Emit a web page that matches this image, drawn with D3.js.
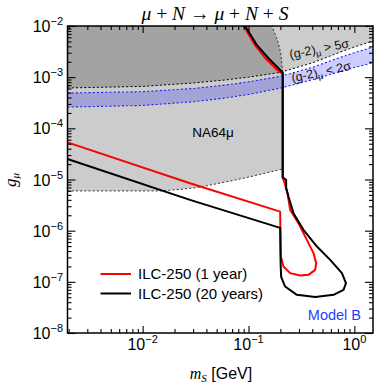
<!DOCTYPE html>
<html>
<head>
<meta charset="utf-8">
<script src="https://cdn.jsdelivr.net/npm/d3@7"></script>
<style>
body{margin:0;background:#fff}
svg{display:block}
</style>
</head>
<body>
<svg id="chart" width="382" height="389"></svg>
<script>
// g-2 bands, sampled on a common mass grid (GeV)
const massGrid = [0.00195, 0.01, 0.03, 0.06, 0.1, 0.2, 0.4, 0.7, 1.0, 1.5];
const g2FiveSigma = [6.15e-4, 6.6e-4, 7.7e-4, 8.8e-4, 1.0e-3, 1.24e-3, 1.9e-3, 2.97e-3, 3.9e-3, 5.1e-3];
const g2TwoSigmaHigh = [4.9e-4, 5.2e-4, 6.0e-4, 7.0e-4, 8.1e-4, 1.04e-3, 1.55e-3, 2.35e-3, 3.0e-3, 3.9e-3];
const g2TwoSigmaLow = [2.6e-4, 2.8e-4, 3.3e-4, 3.9e-4, 4.6e-4, 6.1e-4, 8.9e-4, 1.25e-3, 1.55e-3, 1.9e-3];

// NA64mu excluded region boundary
const na64Mass = [0.00195, 0.0146, 0.0225, 0.0348, 0.0889, 0.212, 0.212, 0.2093, 0.202, 0.1875, 0.166];
const na64Coupling = [5.98e-6, 5.98e-6, 6.4e-6, 7.08e-6, 1.05e-5, 1.61e-5, 1.2e-3, 1.38e-3, 2.93e-3, 5.33e-3, 1e-2];

// ILC-250 sensitivity contours
const ilc1Mass = [0.00195, 0.028, 0.199, 0.2021, 0.2139, 0.2474, 0.3078, 0.3687, 0.4266, 0.436, 0.411, 0.356, 0.2965, 0.2474, 0.2334, 0.2172, 0.2089, 0.2089, 0.1845, 0.1467, 0.1155, 0.0899];
const ilc1Coupling = [5.31e-5, 8.47e-6, 2.36e-6, 3.12e-7, 1.99e-7, 1.48e-7, 1.33e-7, 1.37e-7, 1.71e-7, 2.32e-7, 3.64e-7, 6.6e-7, 1.4e-6, 2.55e-6, 5.4e-6, 9.1e-6, 1.11e-5, 1.155e-3, 1.41e-3, 2.26e-3, 4.16e-3, 1e-2];
const ilc20Mass = [0.00195, 0.028, 0.199, 0.2012, 0.2034, 0.2219, 0.2864, 0.4266, 0.636, 0.79, 0.833, 0.763, 0.591, 0.443, 0.3306, 0.266, 0.2384, 0.2268, 0.2268, 0.2111, 0.2111, 0.1918, 0.1543, 0.1198, 0.0929];
const ilc20Coupling = [2.52e-5, 4.0e-6, 1.135e-6, 2.15e-7, 1.25e-7, 8.1e-8, 5.57e-8, 5.03e-8, 5.57e-8, 6.98e-8, 9.44e-8, 1.48e-7, 2.69e-7, 4.89e-7, 1.04e-6, 2.2e-6, 4.64e-6, 6.86e-6, 9.8e-6, 1.1e-5, 1.21e-3, 1.49e-3, 2.34e-3, 4.26e-3, 1e-2];

const xMajor = [0.01, 0.1, 1];
const xTickExp = ["\u22122", "\u22121", "0"];
const yMajor = [1e-8, 1e-7, 1e-6, 1e-5, 1e-4, 1e-3, 1e-2];
const yTickExp = ["\u22128", "\u22127", "\u22126", "\u22125", "\u22124", "\u22123", "\u22122"];
const legendLabels = ["ILC-250 (1 year)", "ILC-250 (20 years)"];
const legendColors = ["#ff0000", "#000000"];

const pLeft = 67.5, pRight = 373, pTop = 26, pBottom = 333;
const sans = "'Liberation Sans', Arial, Helvetica, sans-serif";
const serif = "'Liberation Serif', 'Times New Roman', serif";

const svg = d3.select("#chart");
const x = d3.scaleLog().domain([0.00195, 1.5]).range([pLeft, pRight]);
const y = d3.scaleLog().domain([1e-8, 1e-2]).range([pBottom, pTop]);

svg.append("clipPath").attr("id", "clip")
  .append("rect").attr("x", pLeft).attr("y", pTop)
  .attr("width", pRight - pLeft).attr("height", pBottom - pTop);
const plot = svg.append("g").attr("clip-path", "url(#clip)");

const line = d3.line().x(d => x(d[0])).y(d => y(d[1]));
const zip = (a, b) => a.map((v, i) => [v, b[i]]);
const yMax = 1e-2, xMin = 0.00195, xMax = 1.5;

// NA64 region
const na64 = zip(na64Mass, na64Coupling);
plot.append("path")
  .attr("d", line(na64.concat([[xMin, yMax * 2], [xMin, yMax * 2]])))
  .attr("fill", "black").attr("fill-opacity", 0.2);

// (g-2) > 5 sigma region
const five = zip(massGrid, g2FiveSigma);
plot.append("path")
  .attr("d", line(five.concat([[xMax, yMax * 2], [xMin, yMax * 2]])))
  .attr("fill", "black").attr("fill-opacity", 0.2);

// 2 sigma band
const bandHigh = zip(massGrid, g2TwoSigmaHigh);
const bandLow = zip(massGrid, g2TwoSigmaLow);
plot.append("path")
  .attr("d", line(bandHigh.concat(bandLow.slice().reverse())))
  .attr("fill", "#0000ff").attr("fill-opacity", 0.2);

plot.append("path").attr("d", line(na64)).attr("fill", "none")
  .attr("stroke", "#333").attr("stroke-width", 1).attr("stroke-dasharray", "2,2.2");
plot.append("path").attr("d", line(five)).attr("fill", "none")
  .attr("stroke", "#000").attr("stroke-width", 1).attr("stroke-dasharray", "2,2.2");
[bandHigh, bandLow].forEach(b => {
  plot.append("path").attr("d", line(b)).attr("fill", "none")
    .attr("stroke", "#1a1aff").attr("stroke-width", 1.1).attr("stroke-dasharray", "2,2.2");
});

// ILC contours
plot.append("path").attr("d", line(zip(ilc1Mass, ilc1Coupling)))
  .attr("fill", "none").attr("stroke", "#ff0000").attr("stroke-width", 2)
  .attr("stroke-linejoin", "round");
plot.append("path").attr("d", line(zip(ilc20Mass, ilc20Coupling)))
  .attr("fill", "none").attr("stroke", "#000").attr("stroke-width", 2)
  .attr("stroke-linejoin", "round");

// axes and ticks (inward, all four sides)
function minorTicks(lo, hi) {
  const out = [];
  for (let e = Math.floor(Math.log10(lo)); e <= Math.ceil(Math.log10(hi)); e++) {
    for (let k = 2; k <= 9; k++) {
      const v = k * Math.pow(10, e);
      if (v > lo && v < hi) out.push(v);
    }
  }
  return out;
}
const xMinor = minorTicks(xMin, xMax);
const yMinor = minorTicks(1e-8, 1e-2);

function tickAxis(axis, pos, vals, len) {
  const g = svg.append("g").attr("transform", pos)
    .call(axis.tickValues(vals).tickSize(-len).tickFormat(""));
  g.select(".domain").remove();
  g.selectAll("line").attr("stroke", "#000").attr("stroke-width", 1.1);
}
[[xMajor, 7], [xMinor, 4]].forEach(([v, l]) => {
  tickAxis(d3.axisBottom(x), `translate(0,${pBottom})`, v, l);
  tickAxis(d3.axisTop(x), `translate(0,${pTop})`, v, l);
});
[[yMajor, 8], [yMinor, 4]].forEach(([v, l]) => {
  tickAxis(d3.axisLeft(y), `translate(${pLeft},0)`, v, l);
  tickAxis(d3.axisRight(y), `translate(${pRight},0)`, v, l);
});

svg.append("rect").attr("x", pLeft).attr("y", pTop)
  .attr("width", pRight - pLeft).attr("height", pBottom - pTop)
  .attr("fill", "none").attr("stroke", "#000").attr("stroke-width", 1.5);

// tick labels
xMajor.forEach((v, i) => {
  const t = svg.append("text").attr("x", x(v)).attr("y", 350)
    .attr("text-anchor", "middle").attr("font-family", sans).attr("font-size", 16);
  t.append("tspan").text("10");
  t.append("tspan").attr("dy", -7).attr("font-size", 11).text(xTickExp[i]);
});
yMajor.forEach((v, i) => {
  const t = svg.append("text").attr("x", 63).attr("y", y(v) + 6)
    .attr("text-anchor", "end").attr("font-family", sans).attr("font-size", 16);
  t.append("tspan").text("10");
  t.append("tspan").attr("dy", -7).attr("font-size", 11).text(yTickExp[i]);
});

// axis titles
const xl = svg.append("text").attr("x", 221).attr("y", 379)
  .attr("text-anchor", "middle").attr("font-size", 16);
xl.append("tspan").attr("font-family", serif).attr("font-style", "italic").text("m");
xl.append("tspan").attr("font-family", serif).attr("font-style", "italic")
  .attr("font-size", 11).attr("dy", 3).text("S");
xl.append("tspan").attr("font-family", sans).attr("dy", -3).text(" [GeV]");

const yl = svg.append("text").attr("transform", "translate(16,180) rotate(-90)")
  .attr("text-anchor", "middle").attr("font-family", serif).attr("font-style", "italic")
  .attr("font-size", 17);
yl.append("tspan").text("g");
yl.append("tspan").attr("font-size", 11).attr("dy", 3).text("\u03bc");

// title
const title = svg.append("text").attr("x", 215).attr("y", 19.5)
  .attr("text-anchor", "middle").attr("font-family", serif).attr("font-size", 19.5);
[["\u03bc", 1], [" + ", 0], ["N", 1], [" \u2192 ", 0], ["\u03bc", 1], [" + ", 0], ["N", 1], [" + ", 0], ["S", 1]]
  .forEach(([s, it]) => title.append("tspan").attr("font-style", it ? "italic" : "normal").text(s));

// region labels
function g2Label(cx, cy, rot, rel) {
  const t = svg.append("text").attr("transform", `translate(${cx},${cy}) rotate(${rot})`)
    .attr("text-anchor", "middle").attr("font-family", sans).attr("font-size", 12.5)
    .attr("fill", "#111");
  t.append("tspan").text("(g-2)");
  t.append("tspan").attr("font-size", 9).attr("dy", 3).text("\u03bc");
  t.append("tspan").attr("dy", -3).text(rel);
}
g2Label(320, 53, -11, " > 5\u03c3");
g2Label(322, 76, -12, " < 2\u03c3");

svg.append("text").attr("x", 213).attr("y", 137).attr("text-anchor", "middle")
  .attr("font-family", sans).attr("font-size", 13.5).text("NA64\u03bc");

// legend
legendLabels.forEach((lab, i) => {
  const ly = 274 + i * 19.5;
  svg.append("line").attr("x1", 100.5).attr("x2", 131).attr("y1", ly).attr("y2", ly)
    .attr("stroke", legendColors[i]).attr("stroke-width", 2);
  svg.append("text").attr("x", 138).attr("y", ly + 5.3)
    .attr("font-family", sans).attr("font-size", 15).text(lab);
});

svg.append("text").attr("x", 361).attr("y", 319.5).attr("text-anchor", "end")
  .attr("font-family", sans).attr("font-size", 14.5).attr("fill", "#1f3fff").text("Model B");
</script>
</body>
</html>
